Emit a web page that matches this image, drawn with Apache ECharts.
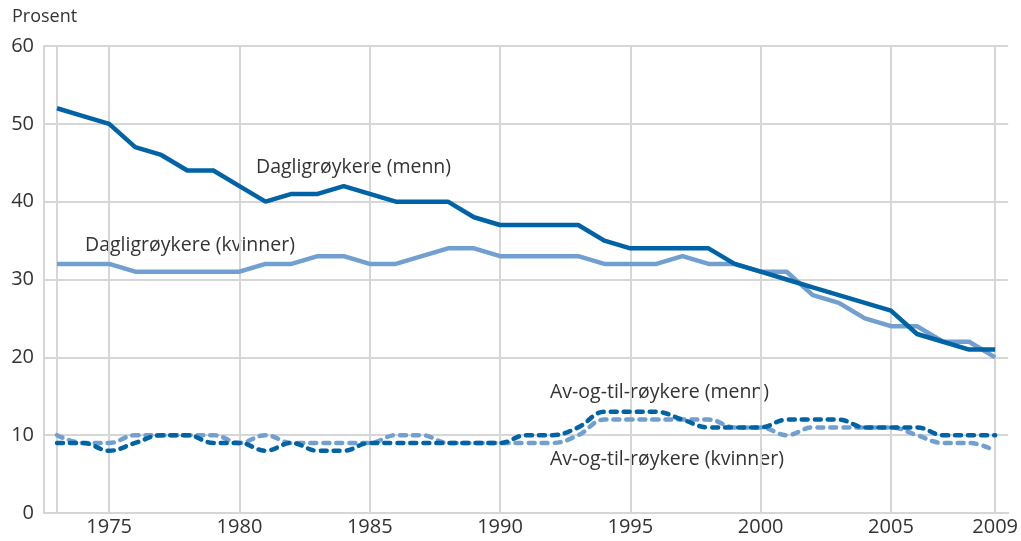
<!DOCTYPE html>
<html>
<head>
<meta charset="utf-8">
<script src="https://cdn.jsdelivr.net/npm/echarts@6/dist/echarts.min.js"></script>
<style>
  html, body { margin: 0; padding: 0; background: #fff; }
  #chart { width: 1021px; height: 541px; }
</style>
</head>
<body>
<div id="chart"></div>
<script>
// årstall
var years = ['1973','1974','1975','1976','1977','1978','1979','1980','1981','1982',
             '1983','1984','1985','1986','1987','1988','1989','1990','1991','1992',
             '1993','1994','1995','1996','1997','1998','1999','2000','2001','2002',
             '2003','2004','2005','2006','2007','2008','2009'];
// dagligrøykere
var dagligMenn = [52,51,50,47,46,44,44,42,40,41,41,42,41,40,40,40,38,37,37,37,
                  37,35,34,34,34,34,32,31,30,29,28,27,26,23,22,21,21];
var dagligKvinner = [32,32,32,31,31,31,31,31,32,32,33,33,32,32,33,34,34,33,33,33,
                     33,32,32,32,33,32,32,31,31,28,27,25,24,24,22,22,20];
// av-og-til-røykere
var avogtilMenn = [9,9,8,9,10,10,9,9,8,9,8,8,9,9,9,9,9,9,10,10,
                   11,13,13,13,12,11,11,11,12,12,12,11,11,11,10,10,10];
var avogtilKvinner = [10,9,9,10,10,10,10,9,10,9,9,9,9,10,10,9,9,9,9,9,
                      10,12,12,12,12,12,11,11,10,11,11,11,11,10,9,9,8];
var yTicks = [0,10,20,30,40,50,60];

var mork = '#0063A6';
var lys = '#71A0D0';
var gridFarge = '#d6d6d6';
var tekstFarge = '#333333';
var font = 'Open Sans';

var chart = echarts.init(document.getElementById('chart'));

// hvilke år som får strek / etikett
function visLabel(i, v) {
    return (v % 5 === 0) || v === '2009';
}
function visStrek(i, v) {
    return visLabel(i, v) || v === '1973';
}

var option = {
    animation: false,
    textStyle: { fontFamily: font },
    grid: { left: 44, right: 9, top: 46, bottom: 28 },
    xAxis: {
        type: 'category',
        data: years,
        boundaryGap: true,
        axisLine: { show: true, lineStyle: { color: gridFarge, width: 2 } },
        axisTick: { show: false },
        axisLabel: {
            interval: visLabel,
            color: tekstFarge,
            fontSize: 20,
            fontFamily: font,
            margin: 4
        },
        splitLine: {
            show: true,
            interval: visStrek,
            alignWithLabel: true,
            lineStyle: { color: gridFarge, width: 2 }
        }
    },
    yAxis: {
        type: 'value',
        min: yTicks[0],
        max: yTicks[yTicks.length - 1],
        interval: 10,
        axisLine: { show: true, lineStyle: { color: gridFarge, width: 2 } },
        axisTick: { show: false },
        axisLabel: { color: tekstFarge, fontSize: 20, fontFamily: font, margin: 10 },
        splitLine: { show: true, lineStyle: { color: gridFarge, width: 2 } }
    },
    graphic: [
        { type: 'text', left: 12, top: 8, style: { text: 'Prosent', fill: tekstFarge, font: '18px "Open Sans"' } },
        { type: 'text', left: 256, top: 157, style: { text: 'Dagligrøykere (menn)', fill: tekstFarge, font: '19.5px "Open Sans"' } },
        { type: 'text', left: 85, top: 235, style: { text: 'Dagligrøykere (kvinner)', fill: tekstFarge, font: '19.5px "Open Sans"' } },
        { type: 'text', left: 550, top: 382, style: { text: 'Av-og-til-røykere (menn)', fill: tekstFarge, font: '19.5px "Open Sans"' } },
        { type: 'text', left: 550, top: 449, style: { text: 'Av-og-til-røykere (kvinner)', fill: tekstFarge, font: '19.5px "Open Sans"' } }
    ],
    series: [
        {
            name: 'Dagligrøykere (kvinner)',
            type: 'line',
            data: dagligKvinner,
            symbol: 'none',
            lineStyle: { color: lys, width: 4.5 },
            z: 2
        },
        {
            name: 'Dagligrøykere (menn)',
            type: 'line',
            data: dagligMenn,
            symbol: 'none',
            lineStyle: { color: mork, width: 4.5 },
            z: 3
        },
        {
            name: 'Av-og-til-røykere (kvinner)',
            type: 'line',
            data: avogtilKvinner,
            symbol: 'none',
            smooth: 0.4,
            lineStyle: { color: lys, width: 4.5, type: [6, 7], cap: 'round' },
            z: 2
        },
        {
            name: 'Av-og-til-røykere (menn)',
            type: 'line',
            data: avogtilMenn,
            symbol: 'none',
            smooth: 0.4,
            lineStyle: { color: mork, width: 4.5, type: [6, 7], cap: 'round' },
            z: 3
        }
    ]
};

chart.setOption(option);
</script>
</body>
</html>
